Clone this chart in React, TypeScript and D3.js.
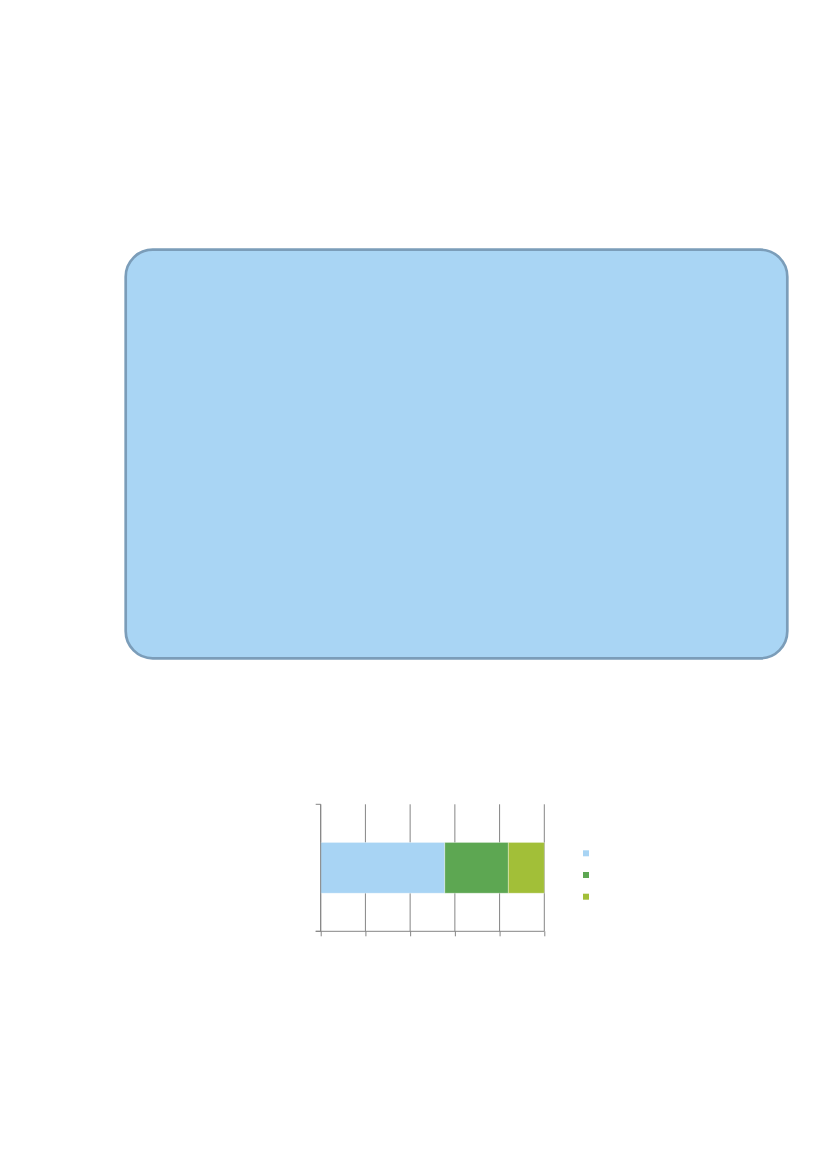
import { useEffect, useRef } from 'react'
import * as d3 from 'd3'

// one 100% stacked bar, three series, legend without labels
const CATEGORIES = ['']
const SERIES = ['s1', 's2', 's3']
const VALUES = [55.5, 28.4, 16.1]
const COLORS = ['#a8d4f4', '#5da752', '#a2bf38']
const X_TICKS = [0, 20, 40, 60, 80, 100]

const W = 827
const H = 1169
const PLOT = { l: 320.7, r: 544.3, t: 804.3, b: 931.3 }
const AXIS = '#858585'

export default function App() {
  const svgRef = useRef<SVGSVGElement>(null)

  useEffect(() => {
    const svg = d3.select(svgRef.current)
    svg.selectAll('*').remove()

    // rounded callout box
    svg.append('rect')
      .attr('x', 125.7).attr('y', 249.7).attr('width', 661.6).attr('height', 408.6)
      .attr('rx', 27).attr('ry', 27)
      .attr('fill', '#a9d5f4').attr('stroke', '#7b9db9').attr('stroke-width', 2.7)

    const x = d3.scaleLinear().domain([0, 100]).range([PLOT.l, PLOT.r])
    const y = d3.scaleBand().domain(CATEGORIES).range([PLOT.t, PLOT.b]).paddingInner(0).paddingOuter(0.75)
    const g = svg.append('g')

    // vertical gridlines
    X_TICKS.forEach((t) => {
      g.append('line').attr('x1', x(t)).attr('x2', x(t)).attr('y1', PLOT.t).attr('y2', PLOT.b)
        .attr('stroke', AXIS).attr('stroke-width', 1)
    })

    // stacked segments
    const row = { cat: CATEGORIES[0], ...Object.fromEntries(SERIES.map((s, i) => [s, VALUES[i]])) } as any
    const stack = d3.stack<any>().keys(SERIES)([row])
    stack.forEach((layer, i) => {
      layer.forEach((d) => {
        g.append('rect')
          .attr('x', x(d[0])).attr('width', x(d[1]) - x(d[0]))
          .attr('y', y(d.data.cat) as number).attr('height', y.bandwidth())
          .attr('fill', COLORS[i]).attr('stroke', 'rgba(255,255,255,0.45)').attr('stroke-width', 0.8)
      })
    })

    // bottom axis
    g.append('g').attr('transform', `translate(0,${PLOT.b})`)
      .call(d3.axisBottom(x).tickValues(X_TICKS).tickSize(5).tickFormat(() => ''))
      .call((a) => { a.select('.domain').attr('stroke', AXIS).attr('d', `M${PLOT.l - 5},0H${PLOT.r}`); a.selectAll('.tick line').attr('stroke', AXIS) })

    // left axis with ticks at band edges
    g.append('line').attr('x1', PLOT.l).attr('x2', PLOT.l).attr('y1', PLOT.t).attr('y2', PLOT.b).attr('stroke', AXIS)
    ;[PLOT.t, PLOT.b].forEach((yy) => {
      g.append('line').attr('x1', PLOT.l - 5).attr('x2', PLOT.l).attr('y1', yy).attr('y2', yy).attr('stroke', AXIS)
    })

    // legend markers
    const ly = d3.scalePoint().domain(SERIES).range([853.3, 896.7])
    SERIES.forEach((s, i) => {
      svg.append('rect').attr('x', 583).attr('y', (ly(s) as number) - 3).attr('width', 6).attr('height', 6)
        .attr('fill', COLORS[i])
    })
  }, [])

  return (
    <div style={{ position: 'absolute', left: 0, top: 0, width: W, height: H, background: '#fff' }}>
      <svg ref={svgRef} width={W} height={H} style={{ display: 'block' }} />
    </div>
  )
}
